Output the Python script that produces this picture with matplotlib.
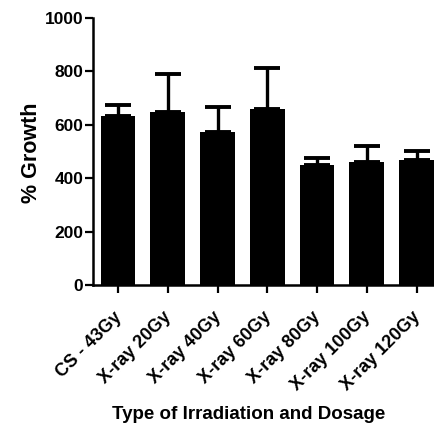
import matplotlib
matplotlib.use("Agg")
import matplotlib.pyplot as plt
import matplotlib.transforms as mtransforms

# values
groups = ["CS - 43Gy", "X-ray 20Gy", "X-ray 40Gy", "X-ray 60Gy",
          "X-ray 80Gy", "X-ray 100Gy", "X-ray 120Gy"]
growth = [634, 649, 574, 661, 449, 462, 469]
err_up = [41, 143, 92, 151, 27, 59, 33]
y_ticks = [0, 200, 400, 600, 800, 1000]

plt.rcParams["font.family"] = ["Liberation Sans", "DejaVu Sans"]
plt.rcParams["font.weight"] = "bold"

fig = plt.figure(figsize=(4.35, 4.28), dpi=100)
ax = fig.add_axes([0.214, 0.334, 0.786, 0.624])

x = list(range(len(groups)))
ax.bar(x, growth, width=0.7, color="black", zorder=2)
ax.errorbar(x, growth, yerr=[[0] * len(x), err_up], fmt="none",
            ecolor="black", elinewidth=2.4, capsize=9.5, capthick=2.8, zorder=3)

ax.set_xlim(-0.5, 6.37)
ax.set_ylim(0, 1000)
ax.set_yticks(y_ticks)
ax.set_xticks(x)

for side in ("top", "right"):
    ax.spines[side].set_visible(False)
for side in ("left", "bottom"):
    ax.spines[side].set_linewidth(1.8)
ax.tick_params(axis="both", length=6, width=1.6, labelsize=12.5)
ax.tick_params(axis="y", pad=1)

offset = mtransforms.ScaledTranslation(-0.05, -0.1, fig.dpi_scale_trans)
ax.set_xticklabels(groups, rotation=45, ha="right", rotation_mode="anchor",
                   fontsize=13, fontweight="bold")
for lab in ax.get_xticklabels():
    lab.set_transform(lab.get_transform() + offset)

ax.set_ylabel("% Growth", fontsize=15.5, fontweight="bold")
ax.yaxis.set_label_coords(-0.15, 0.494)
ax.set_xlabel("Type of Irradiation and Dosage", fontsize=13.5,
              fontweight="bold")
ax.xaxis.set_label_coords(0.455, -0.453)

fig.savefig("out.png", dpi=100)
